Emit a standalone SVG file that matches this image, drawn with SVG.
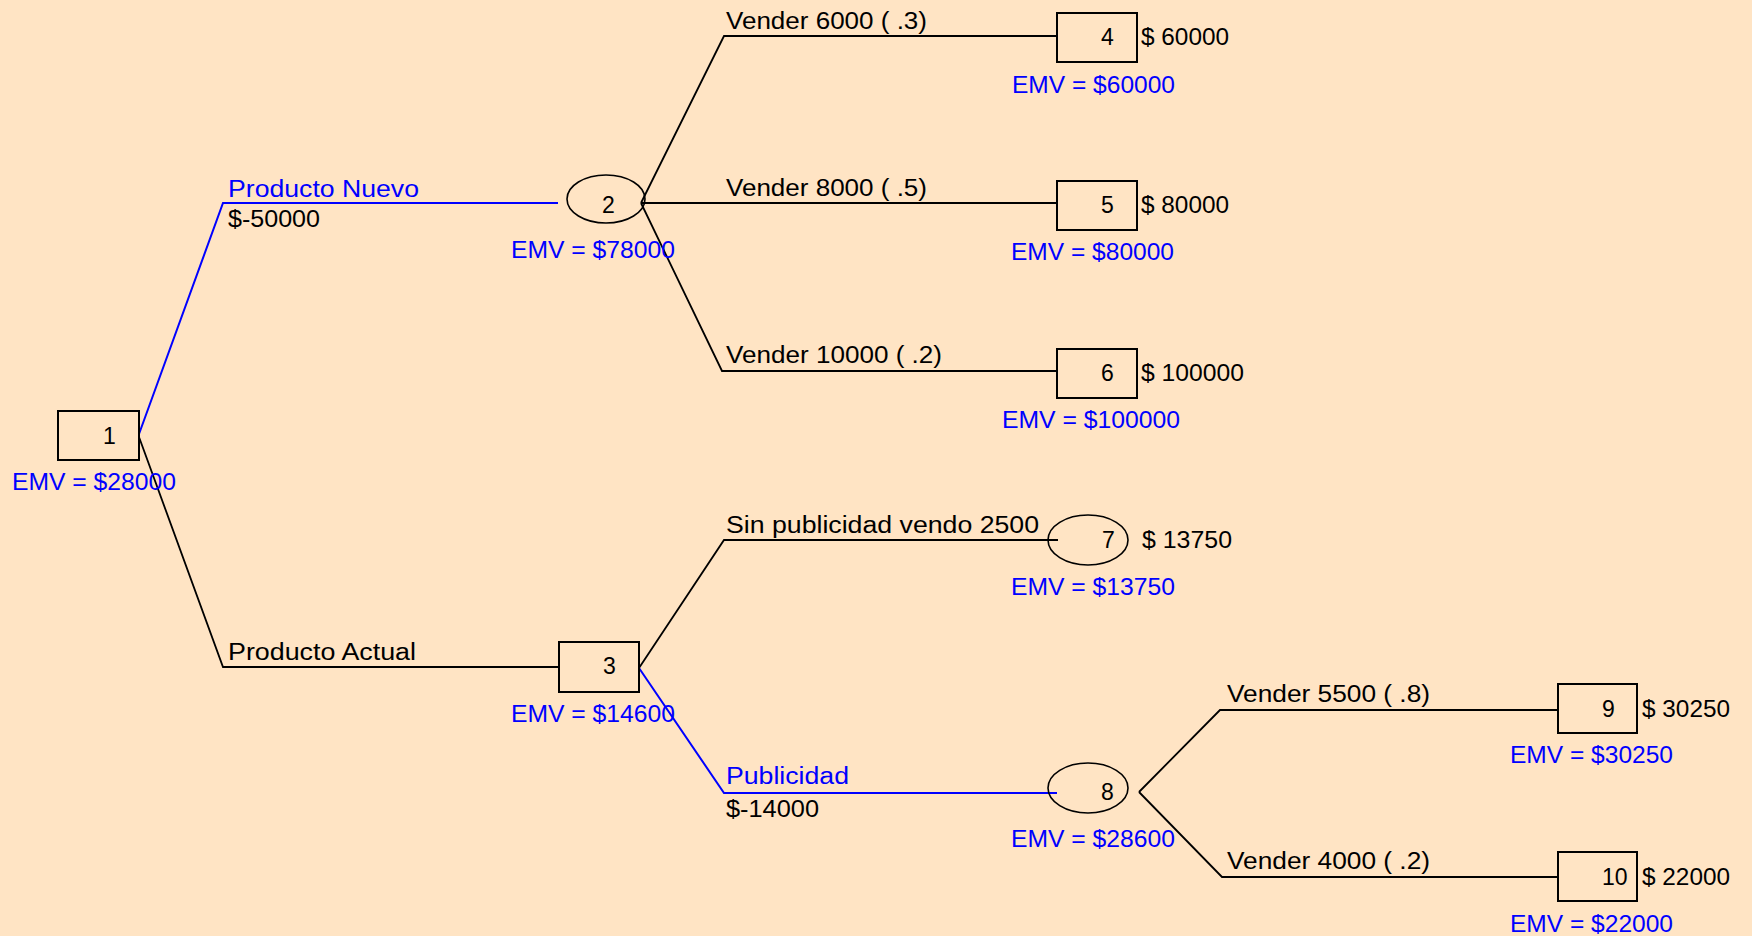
<svg xmlns="http://www.w3.org/2000/svg" width="1752" height="936" viewBox="0 0 1752 936">
<style>
text{font-family:"Liberation Sans",Arial,sans-serif;font-size:23px;fill:#000}
.emv{fill:#0000ff}
.blue{fill:#0000ff}
.box{fill:none;stroke:#000;stroke-width:2}
.chance{fill:none;stroke:#000;stroke-width:1.6}
.ln{fill:none;stroke:#000;stroke-width:1.8}
.lnb{fill:none;stroke:#0000ff;stroke-width:2}
</style>
<rect x="0" y="0" width="1752" height="936" fill="#FFE4C4"/>
<g id="connectors">
<path class="lnb" d="M139,434 L223,203 L558,203"/>
<path class="ln" d="M139,437 L223,667 L559,667"/>
<path class="ln" d="M641,203 L724,36 L1057,36"/>
<path class="ln" d="M641,203 L1057,203"/>
<path class="ln" d="M641,203 L722,371 L1057,371"/>
<path class="ln" d="M639,668 L724,540 L1058,540"/>
<path class="lnb" d="M639,668 L724,793 L1057,793"/>
<path class="ln" d="M1139,792 L1220,710 L1558,710"/>
<path class="ln" d="M1139,792 L1222,877 L1558,877"/>
<text x="228" y="197" class="blue" textLength="191" lengthAdjust="spacingAndGlyphs">Producto Nuevo</text>
<text x="228" y="227" textLength="92" lengthAdjust="spacingAndGlyphs">$-50000</text>
<text x="228" y="660" textLength="188" lengthAdjust="spacingAndGlyphs">Producto Actual</text>
<text x="726" y="29" textLength="201" lengthAdjust="spacingAndGlyphs">Vender 6000 ( .3)</text>
<text x="726" y="196" textLength="201" lengthAdjust="spacingAndGlyphs">Vender 8000 ( .5)</text>
<text x="726" y="363" textLength="216" lengthAdjust="spacingAndGlyphs">Vender 10000 ( .2)</text>
<text x="726" y="533" textLength="313" lengthAdjust="spacingAndGlyphs">Sin publicidad vendo 2500</text>
<text x="726" y="784" class="blue" textLength="123" lengthAdjust="spacingAndGlyphs">Publicidad</text>
<text x="726" y="817" textLength="93" lengthAdjust="spacingAndGlyphs">$-14000</text>
<text x="1227" y="702" textLength="203" lengthAdjust="spacingAndGlyphs">Vender 5500 ( .8)</text>
<text x="1227" y="869" textLength="203" lengthAdjust="spacingAndGlyphs">Vender 4000 ( .2)</text>
</g>
<g id="node1">
<rect class="box" x="58" y="411" width="81" height="49"/>
<text x="103" y="444">1</text>
<text x="12" y="490" class="emv" textLength="164" lengthAdjust="spacingAndGlyphs">EMV = $28000</text>
</g>
<g id="node2">
<ellipse class="chance" cx="606" cy="199" rx="39" ry="24"/>
<text x="602" y="213">2</text>
<text x="511" y="258" class="emv" textLength="164" lengthAdjust="spacingAndGlyphs">EMV = $78000</text>
</g>
<g id="node3">
<rect class="box" x="559" y="642" width="80" height="50"/>
<text x="603" y="674">3</text>
<text x="511" y="722" class="emv" textLength="164" lengthAdjust="spacingAndGlyphs">EMV = $14600</text>
</g>
<g id="node4">
<rect class="box" x="1057" y="13" width="80" height="49"/>
<text x="1101" y="45">4</text>
<text x="1141" y="45" textLength="88" lengthAdjust="spacingAndGlyphs">$ 60000</text>
<text x="1012" y="93" class="emv" textLength="163" lengthAdjust="spacingAndGlyphs">EMV = $60000</text>
</g>
<g id="node5">
<rect class="box" x="1057" y="181" width="80" height="49"/>
<text x="1101" y="213">5</text>
<text x="1141" y="213" textLength="88" lengthAdjust="spacingAndGlyphs">$ 80000</text>
<text x="1011" y="260" class="emv" textLength="163" lengthAdjust="spacingAndGlyphs">EMV = $80000</text>
</g>
<g id="node6">
<rect class="box" x="1057" y="349" width="80" height="49"/>
<text x="1101" y="381">6</text>
<text x="1141" y="381" textLength="103" lengthAdjust="spacingAndGlyphs">$ 100000</text>
<text x="1002" y="428" class="emv" textLength="178" lengthAdjust="spacingAndGlyphs">EMV = $100000</text>
</g>
<g id="node7">
<ellipse class="chance" cx="1088" cy="540" rx="40" ry="25"/>
<text x="1102" y="548">7</text>
<text x="1142" y="548" textLength="90" lengthAdjust="spacingAndGlyphs">$ 13750</text>
<text x="1011" y="595" class="emv" textLength="164" lengthAdjust="spacingAndGlyphs">EMV = $13750</text>
</g>
<g id="node8">
<ellipse class="chance" cx="1088" cy="788" rx="40" ry="25"/>
<text x="1101" y="800">8</text>
<text x="1011" y="847" class="emv" textLength="164" lengthAdjust="spacingAndGlyphs">EMV = $28600</text>
</g>
<g id="node9">
<rect class="box" x="1558" y="684" width="79" height="49"/>
<text x="1602" y="717">9</text>
<text x="1642" y="717" textLength="88" lengthAdjust="spacingAndGlyphs">$ 30250</text>
<text x="1510" y="763" class="emv" textLength="163" lengthAdjust="spacingAndGlyphs">EMV = $30250</text>
</g>
<g id="node10">
<rect class="box" x="1558" y="852" width="79" height="49"/>
<text x="1602" y="885">10</text>
<text x="1642" y="885" textLength="88" lengthAdjust="spacingAndGlyphs">$ 22000</text>
<text x="1510" y="932" class="emv" textLength="163" lengthAdjust="spacingAndGlyphs">EMV = $22000</text>
</g>
</svg>
